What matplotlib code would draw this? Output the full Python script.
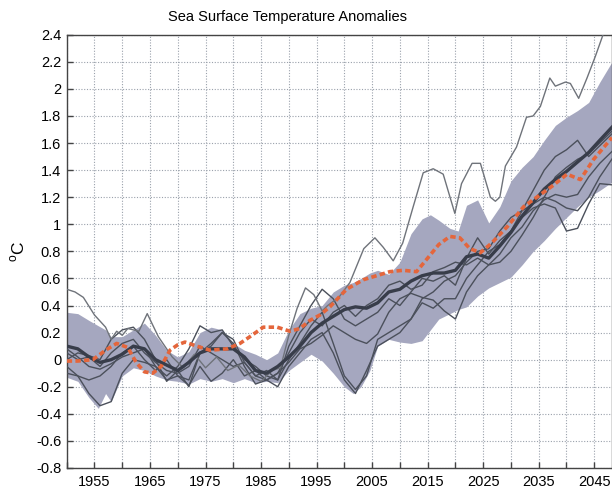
import matplotlib
matplotlib.use("Agg")
import matplotlib.pyplot as plt

plt.rcParams['font.family'] = ['Liberation Sans', 'DejaVu Sans']
plt.rcParams['mathtext.fontset'] = 'custom'
plt.rcParams['mathtext.rm'] = 'Liberation Sans'

# shaded ensemble spread
band_years = [1950, 1952, 1954, 1955.7, 1957, 1958, 1960, 1962, 1964, 1966, 1968, 1970,
              1972, 1974, 1976, 1978, 1980, 1982, 1984, 1986, 1988, 1990, 1992, 1994,
              1996, 1998, 2000, 2001.6, 2003, 2004.6, 2006, 2008, 2010, 2012, 2014,
              2015.5, 2017, 2019, 2020.5, 2022, 2024, 2026, 2028, 2030, 2032, 2034,
              2036, 2038, 2040, 2042, 2044, 2046, 2048.5]
band_upper = [0.35, 0.34, 0.29, 0.25, 0.22, 0.17, 0.17, 0.22, 0.27, 0.18, 0.07, 0.02,
              0.06, 0.20, 0.24, 0.22, 0.12, 0.07, 0.04, 0.0, 0.05, 0.22, 0.34, 0.38,
              0.40, 0.50, 0.55, 0.57, 0.60, 0.64, 0.66, 0.63, 0.72, 0.93, 1.04,
              1.07, 1.03, 0.97, 0.95, 1.14, 1.18, 1.01, 1.13, 1.32, 1.42, 1.50,
              1.62, 1.73, 1.79, 1.84, 1.90, 2.05, 2.22]
band_lower = [-0.13, -0.16, -0.28, -0.36, -0.25, -0.31, -0.12, -0.06, -0.08, -0.12, -0.15, -0.16,
              -0.18, -0.14, -0.16, -0.14, -0.17, -0.14, -0.17, -0.16, -0.17, -0.08, -0.02, 0.04,
              -0.01, -0.10, -0.20, -0.25, -0.20, -0.08, 0.10, 0.15, 0.13, 0.12, 0.14,
              0.22, 0.30, 0.34, 0.37, 0.39, 0.47, 0.53, 0.57, 0.61, 0.70, 0.80,
              0.88, 0.97, 1.05, 1.13, 1.20, 1.25, 1.32]

# ensemble mean (thick line)
mean_years = [1950, 1952, 1954, 1956, 1958, 1960, 1962, 1964, 1966, 1968, 1970, 1972,
              1974, 1976, 1978, 1980, 1982, 1984, 1986, 1988, 1990, 1992, 1994, 1996,
              1998, 2000, 2002, 2004, 2006, 2008, 2010, 2012, 2014, 2016, 2018, 2020,
              2022, 2024, 2026, 2028, 2030, 2032, 2034, 2036, 2038, 2040, 2042, 2044,
              2046, 2048.5]
mean_vals = [0.10, 0.08, 0.02, -0.02, 0.0, 0.04, 0.10, 0.08, 0.0, -0.04, -0.08, -0.02,
             0.05, 0.08, 0.08, 0.08, 0.02, -0.08, -0.10, -0.05, 0.02, 0.10, 0.20, 0.27,
             0.32, 0.37, 0.39, 0.38, 0.42, 0.50, 0.52, 0.58, 0.62, 0.64, 0.64, 0.66,
             0.76, 0.78, 0.75, 0.84, 0.94, 1.06, 1.16, 1.26, 1.33, 1.39, 1.46, 1.53,
             1.62, 1.73]

# single run well above the others (light grey)
top_years = [1950, 1951.5, 1953, 1955, 1957, 1958, 1959, 1960, 1961, 1963, 1964.5, 1966.5,
             1969, 1971, 1973, 1975, 1977, 1979, 1981, 1983, 1985, 1987, 1988.5, 1990,
             1991.5, 1993, 1994.5, 1996, 1997, 1999, 2001, 2003.5, 2005.5, 2007, 2008.8,
             2010.5, 2012.4, 2014.2, 2016, 2017.8, 2019.9, 2021.1, 2023, 2024.5, 2026.3,
             2027.2, 2028, 2029, 2031, 2032.8, 2034, 2035.3, 2037, 2038, 2039.8, 2040.7,
             2042.2, 2043.7, 2045.2, 2046.5, 2048.5]
top_vals = [0.52, 0.50, 0.46, 0.33, 0.24, 0.15, 0.21, 0.18, 0.23, 0.21, 0.34, 0.17,
            0.02, -0.06, 0.04, -0.06, 0.02, -0.08, -0.04, -0.12, -0.16, -0.08, -0.06, 0.18,
            0.38, 0.53, 0.48, 0.36, 0.40, 0.46, 0.57, 0.82, 0.90, 0.83, 0.73,
            0.86, 1.13, 1.38, 1.41, 1.37, 1.08, 1.30, 1.45, 1.45, 1.20,
            1.17, 1.20, 1.43, 1.57, 1.79, 1.80, 1.87, 2.08, 2.02, 2.05, 2.04,
            1.93, 2.08, 2.24, 2.39, 2.62]

# other individual runs
run_years = [1950, 1952, 1954, 1956, 1958, 1960, 1962, 1964, 1966, 1968, 1970, 1972,
             1974, 1976, 1978, 1980, 1982, 1984, 1986, 1988, 1990, 1992, 1994, 1996,
             1998, 2000, 2002, 2004, 2006, 2008, 2010, 2012, 2014, 2016, 2018, 2020,
             2022, 2024, 2026, 2028, 2030, 2032, 2034, 2036, 2038, 2040, 2042, 2044,
             2046, 2048.5]
run1 = [-0.05, -0.12, -0.25, -0.34, -0.31, -0.10, 0.0, -0.02, -0.05, -0.15, -0.12, -0.19,
        -0.05, -0.16, -0.10, 0.0, -0.12, -0.08, -0.15, -0.20, -0.05, 0.05, 0.15, 0.20,
        0.05, -0.15, -0.25, -0.08, 0.10, 0.15, 0.20, 0.30, 0.42, 0.38, 0.45, 0.45,
        0.60, 0.70, 0.80, 0.85, 0.95, 1.05, 1.12, 1.15, 1.12, 0.95, 0.97, 1.15,
        1.30, 1.29]
run2 = [0.08, 0.02, -0.05, -0.07, -0.03, 0.02, 0.05, 0.08, -0.05, -0.12, -0.05, 0.08,
        0.25, 0.20, 0.22, 0.10, 0.0, -0.05, -0.12, -0.15, 0.0, 0.12, 0.25, 0.35,
        0.12, -0.12, -0.22, -0.12, 0.15, 0.20, 0.25, 0.30, 0.45, 0.50, 0.58, 0.62,
        0.72, 0.80, 0.82, 0.95, 1.05, 1.10, 1.15, 1.20, 1.17, 1.12, 1.10, 1.20,
        1.35, 1.50]
run3 = [0.0, 0.05, 0.03, 0.0, 0.15, 0.22, 0.24, 0.15, 0.0, -0.16, -0.08, -0.20,
        0.05, 0.12, 0.20, 0.15, -0.02, -0.12, -0.08, -0.15, 0.10, 0.25, 0.40, 0.52,
        0.45, 0.30, 0.25, 0.30, 0.35, 0.45, 0.40, 0.50, 0.60, 0.58, 0.62, 0.55,
        0.75, 0.90, 0.78, 0.88, 0.95, 1.10, 1.25, 1.40, 1.50, 1.55, 1.62, 1.50,
        1.58, 1.68]
run4 = [-0.10, -0.12, -0.15, -0.12, -0.05, 0.05, 0.10, 0.0, -0.08, 0.0, -0.12, -0.15,
        0.05, 0.10, 0.20, 0.12, -0.05, -0.18, -0.15, -0.10, -0.02, 0.08, 0.12, 0.18,
        0.25, 0.20, 0.15, 0.12, 0.19, 0.35, 0.45, 0.49, 0.46, 0.44, 0.36, 0.30,
        0.50, 0.62, 0.70, 0.72, 0.80, 0.92, 1.05, 1.20, 1.35, 1.42, 1.48, 1.52,
        1.60, 1.70]
run5 = [0.05, 0.0, 0.02, -0.05, 0.05, 0.12, 0.15, 0.05, -0.02, -0.08, -0.10, -0.05,
        0.10, 0.05, 0.0, -0.05, -0.02, -0.12, -0.15, -0.10, 0.05, 0.20, 0.30, 0.25,
        0.35, 0.40, 0.32, 0.40, 0.45, 0.55, 0.58, 0.52, 0.55, 0.65, 0.68, 0.72,
        0.70, 0.75, 0.70, 0.78, 0.90, 0.98, 1.10, 1.18, 1.22, 1.20, 1.22, 1.35,
        1.45, 1.55]
runs = [run1, run2, run3, run4, run5]

# observed / reference curve (orange dashed)
obs_years = [1950, 1952, 1954.7, 1957, 1959, 1961, 1962.5, 1964, 1965.5, 1967, 1968.6,
             1970, 1971.3, 1973.4, 1975.8, 1978.9, 1981.2, 1983, 1985.4, 1987.9, 1990.2,
             1992, 1993.8, 1995.6, 1997.4, 2000.4, 2003.4, 2005.8, 2008.2, 2010.6, 2013,
             2015.4, 2017, 2019, 2020.8, 2022.6, 2024.5, 2026.5, 2029.3, 2032.3, 2035,
             2037.7, 2040.1, 2042.5, 2044.9, 2048.2]
obs_vals = [-0.01, -0.01, 0.0, 0.07, 0.12, 0.09, -0.02, -0.09, -0.10, -0.05, 0.07,
            0.11, 0.13, 0.10, 0.07, 0.08, 0.12, 0.17, 0.24, 0.24, 0.21,
            0.23, 0.29, 0.33, 0.39, 0.52, 0.59, 0.62, 0.65, 0.66, 0.65,
            0.77, 0.85, 0.91, 0.90, 0.82, 0.79, 0.86, 0.98, 1.13, 1.21,
            1.29, 1.37, 1.33, 1.48, 1.64]

fig = plt.figure(figsize=(6.12, 4.9), dpi=100)
ax = fig.add_axes([0.109, 0.0449, 0.891, 0.8843])

ax.fill_between(band_years, band_lower, band_upper, color='#a5a7bf', lw=0, zorder=1)
for r in runs:
    ax.plot(run_years, r, color='#4b505b', lw=1.0, zorder=3)
ax.plot(top_years, top_vals, color='#6f737a', lw=1.0, zorder=3)
ax.plot(mean_years, mean_vals, color='#383d4a', lw=2.4, zorder=4)
ax.plot(obs_years, obs_vals, color='#e4663c', lw=2.6, ls=(0, (1.5, 0.9)), zorder=5)

ax.set_xlim(1950, 2048.2)
ax.set_ylim(-0.8, 2.4)
xt = list(range(1950, 2050, 5))
ax.set_xticks(xt)
ax.set_xticklabels([str(y) if (y - 1955) % 10 == 0 else '' for y in xt])
yt = [round(-0.8 + 0.2 * i, 1) for i in range(17)]
ax.set_yticks(yt)
ax.set_yticklabels(['%g' % v for v in yt])
ax.tick_params(direction='in', length=4, width=1, labelsize=10.5, color='#444444')
ax.tick_params(axis='x', pad=5)
ax.tick_params(axis='y', pad=4)
ax.grid(True, color='#9aa1ab', lw=0.8, ls=(0, (1, 1.5)))
ax.set_axisbelow(True)
for s in ax.spines.values():
    s.set_color('#444444')
    s.set_linewidth(1.0)

fig.text(0.030, 0.487, '$^{\\rm o}$C', rotation=90, fontsize=12.5, ha='center', va='center')
fig.text(0.469, 0.966, 'Sea Surface Temperature Anomalies', fontsize=10.5, ha='center', va='center')

fig.savefig('out.png', dpi=100)
